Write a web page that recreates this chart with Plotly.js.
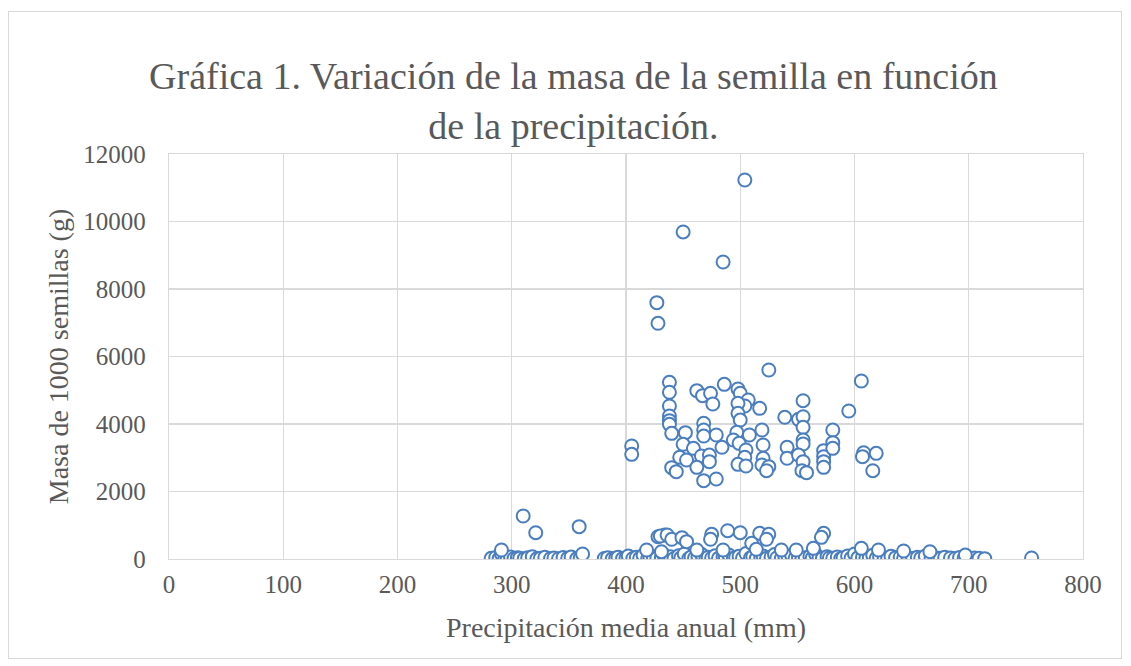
<!DOCTYPE html>
<html>
<head>
<meta charset="utf-8">
<script src="https://cdn.plot.ly/plotly-3.0.1.min.js"></script>
<style>
  html, body { margin: 0; padding: 0; background: #ffffff; }
  #wrap { position: relative; width: 1131px; height: 666px; }
  #chart { width: 1131px; height: 666px; }
  #frame { position: absolute; left: 8px; top: 11px; width: 1114px; height: 648px;
           border: 1px solid #d9d9d9; pointer-events: none; box-sizing: border-box; }
</style>
</head>
<body>
<div id="wrap">
  <div id="chart"></div>
  <div id="frame"></div>
</div>
<script>
// Chart text
const chartTitle = "Gráfica 1. Variación de la masa de la semilla en función<br>de la precipitación.";
const xTitle = "Precipitación media anual (mm)";
const yTitle = "Masa de 1000 semillas (g)";

// Points near zero (precipitation mm, mass g)
const precipBase = [
  282,286,289,291,294,296,299,302,305,307,
  311,314,318,322,325,329,334,337,341,345,
  349,352,357,360,381,384,388,391,393,397,
  400,402,406,409,412,415,419,421,424,427,
  431,433,436,439,442,446,448,451,455,457,
  460,463,466,470,472,475,478,481,485,487,
  490,494,496,499,502,505,509,511,514,518,
  520,523,527,530,532,536,539,542,545,548,
  551,554,557,561,563,566,569,572,576,578,
  581,585,588,590,594,597,600,603,607,610,
  613,616,619,622,626,629,632,636,640,643,
  647,651,655,658,662,667,671,675,679,684,
  688,692,696,700,705,709,714,755
];
const massBase = [
  20,45,10,150,30,5,60,15,40,25,
  10,35,70,5,20,50,15,30,8,45,
  20,60,12,35,15,40,5,25,55,10,
  30,90,15,50,20,110,8,40,65,25,
  45,130,20,70,10,95,35,150,15,60,
  25,80,140,10,55,30,100,20,65,40,
  120,15,50,85,25,160,35,70,10,45,
  90,20,60,130,30,15,75,40,110,20,
  55,10,35,80,25,140,45,15,70,30,
  20,60,10,40,90,25,150,35,55,15,
  45,110,20,70,30,10,85,40,60,20,
  35,15,50,25,90,10,40,20,55,30,
  15,45,25,10,30,20,10,30
];

// Points between ~100 and ~1300 g
const precipMid = [310,321,359,362,291,428,434,430,436,440,449,453,475,474,489,500,517,525,523,510,573,571,564,431,536,606,643,697,418,462,485,514,549,621,666];
const massMid   = [1274,780,958,148,267,661,711,681,711,583,632,514,731,583,839,780,760,731,583,464,760,642,316,217,267,316,237,118,267,267,267,287,267,267,217];

// Points above ~2000 g
const precipHigh = [
  504,450,485,427,428,525,606,
  438,438,438,438,438,438,440,
  462,467,474,476,486,498,500,507,504,498,517,498,500,
  468,468,468,479,452,450,459,484,466,473,473,447,453,440,444,462,468,479,
  497,508,494,499,505,504,498,505,
  519,520,520,519,525,523,
  539,551,555,555,555,555,555,541,541,551,555,554,558,
  573,573,573,573,581,581,581,595,608,607,619,616,
  405,405
];
const massHigh = [
  11230,9690,8800,7595,6983,5600,5274,
  5235,4939,4533,4237,4099,3990,3723,
  4988,4840,4909,4593,5175,5037,4909,4711,4533,4612,4464,4316,4118,
  4020,3822,3644,3674,3743,3398,3279,3309,3052,3081,2884,3012,2933,2706,2588,2716,2321,2370,
  3753,3674,3526,3427,3230,3012,2805,2756,
  3822,3378,2983,2785,2736,2617,
  4198,4138,4691,4217,3901,3526,3407,3309,2983,3081,2884,2617,2558,
  3210,3032,2884,2716,3822,3447,3279,4385,3150,3032,3131,2617,
  3348,3101
];

// Axis ticks
const xTicks = [0,100,200,300,400,500,600,700,800];
const yTicks = [0,2000,4000,6000,8000,10000,12000];

const xs = precipBase.concat(precipMid, precipHigh);
const ys = massBase.concat(massMid, massHigh);

const blue = "#4a7ebf";
const grey = "#595959";
const font = "Liberation Serif, Times New Roman, serif";

const trace = {
  type: "scatter",
  mode: "markers",
  x: xs,
  y: ys,
  marker: { symbol: "circle", size: 13, color: "#ffffff", line: { color: blue, width: 2 } },
  hoverinfo: "x+y",
  showlegend: false
};

const layout = {
  width: 1131,
  height: 666,
  paper_bgcolor: "#ffffff",
  plot_bgcolor: "#ffffff",
  margin: { l: 169, r: 48, t: 154, b: 107, pad: 0 },
  font: { family: font, color: grey },
  title: {
    text: chartTitle,
    font: { family: font, size: 38, color: grey },
    x: 0.507, xanchor: "center", xref: "container",
    y: 0.866, yanchor: "top", yref: "container"
  },
  xaxis: {
    range: [0, 800],
    tickvals: xTicks,
    ticktext: xTicks.map(String),
    showgrid: true, gridcolor: "#d9d9d9", gridwidth: 1.3,
    zeroline: false,
    showline: true, linecolor: "#d9d9d9", linewidth: 1.3, mirror: true,
    ticks: "", ticklabelstandoff: 3,
    tickfont: { family: font, size: 25, color: grey },
    title: { text: xTitle, font: { family: font, size: 28, color: grey }, standoff: 20 }
  },
  yaxis: {
    range: [0, 12000],
    tickvals: yTicks,
    ticktext: yTicks.map(String),
    showgrid: true, gridcolor: "#d9d9d9", gridwidth: 1.3,
    zeroline: false,
    showline: true, linecolor: "#d9d9d9", linewidth: 1.3, mirror: true,
    ticks: "", ticklabelstandoff: 17,
    tickfont: { family: font, size: 25, color: grey },
    title: { text: yTitle, font: { family: font, size: 28, color: grey }, standoff: 6 }
  }
};

Plotly.newPlot("chart", [trace], layout, { displayModeBar: false, staticPlot: true });
</script>
</body>
</html>
